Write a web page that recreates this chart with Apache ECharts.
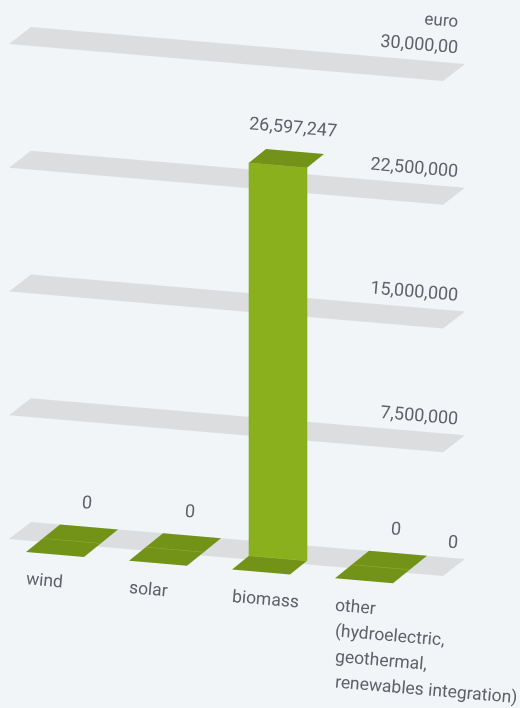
<!DOCTYPE html>
<html>
<head>
<meta charset="utf-8">
<script src="https://cdn.jsdelivr.net/npm/echarts@6/dist/echarts.min.js"></script>
<style>
  html, body { margin: 0; padding: 0; background: #f1f5f8; }
  #chart { width: 520px; height: 708px; }
</style>
</head>
<body>
<div id="chart"></div>
<script>
// Funding per renewable source (euro)
const categories = ['wind', 'solar', 'biomass', 'other\n(hydroelectric,\ngeothermal,\nrenewables integration)'];
const values = [0, 0, 26597247, 0];
const valueLabels = ['0', '0', '26,597,247', '0'];

// Value-axis planes and their labels
const gridValues = [0, 7500000, 15000000, 22500000, 30000000];
const tickLabels = ['0', '7,500,000', '15,000,000', '22,500,000', '30,000,00'];
const unitName = 'euro';

// Oblique projection settings
const SLOPE = 0.0853;                 // downward drift of everything to the right
const TILT = -Math.atan(SLOPE);
const PLANE_DEPTH = [22, 17];         // back edge -> front edge of a grid plane
const TILE_W = 58;                    // column width
const TILE_DEPTH = [34, 27.5];        // full footprint depth
const LINE_H = 25.6;
const TEXT = '#5e6165';
const PLANE = '#dcdddf';
const GREEN = '#8ab01e';
const GREEN_DARK = '#729318';

function tiltedText(x, y, text, font, align, vAlign) {
  return {
    type: 'text', x: x, y: y, rotation: TILT,
    style: {
      text: text, x: 0, y: 0, fill: TEXT, font: font,
      align: align, textAlign: align, verticalAlign: vAlign, textVerticalAlign: vAlign
    }
  };
}

function renderPlane(params, api) {
  const cs = params.coordSys;
  const v = api.value(1);
  const y0 = api.coord([0, v])[1];
  const x0 = cs.x;
  const x1 = cs.x + cs.width + PLANE_DEPTH[0];
  const y1 = y0 + (x1 - x0) * SLOPE;
  const lx = x1 - 7;
  const ly = y0 + (lx - x0) * SLOPE - 14.6;
  const children = [
    {
      type: 'polygon',
      shape: { points: [[x0, y0], [x1, y1], [x1 - PLANE_DEPTH[0], y1 + PLANE_DEPTH[1]], [x0 - PLANE_DEPTH[0], y0 + PLANE_DEPTH[1]]] },
      style: { fill: PLANE }
    },
    tiltedText(lx, ly, tickLabels[params.dataIndex], '18px Roboto', 'right', 'middle')
  ];
  if (params.dataIndex === gridValues.length - 1) {
    children.push(tiltedText(lx, ly - 26, unitName, '17px Roboto', 'right', 'middle'));
  }
  return { type: 'group', children: children };
}

function renderColumn(params, api) {
  const cs = params.coordSys;
  const i = api.value(0);
  const base = api.coord([i, 0]);
  const top = api.coord([i, api.value(1)]);
  const h = base[1] - top[1];
  const hx = TILE_DEPTH[0] / 2, hy = TILE_DEPTH[1] / 2;
  const bx = base[0] - 22.5;                       // back-left corner of footprint
  const fx = bx - hx;                              // front face, left edge
  const fy = base[1] + (bx - cs.x) * SLOPE + hy;   // front face, bottom-left
  const fyR = fy + TILE_W * SLOPE;                 // front face, bottom-right

  const bottom = [[fx, fy], [fx + TILE_W, fyR], [fx + TILE_W - hx, fyR + hy], [fx - hx, fy + hy]];
  const front = [[fx, fy], [fx + TILE_W, fyR], [fx + TILE_W, fyR - h], [fx, fy - h]];
  const cap = [[fx, fy - h], [fx + TILE_W, fyR - h], [fx + TILE_W + hx, fyR - h - hy], [fx + hx, fy - h - hy]];

  const children = [
    { type: 'polygon', shape: { points: bottom }, style: { fill: GREEN_DARK } },
    { type: 'polygon', shape: { points: front }, style: { fill: GREEN, stroke: GREEN, lineWidth: 0.6 } },
    { type: 'polygon', shape: { points: cap }, style: { fill: GREEN_DARK } },
    tiltedText(fx + hx + TILE_W / 2 - 2, fy - h - hy + (TILE_W / 2) * SLOPE - 23,
      valueLabels[params.dataIndex], '18px Roboto', 'center', 'middle')
  ];

  // category name: each line starts at the same x, stacked straight down
  const lx = fx - hx;
  const baseY = fy + hy + 34 - 6;
  categories[params.dataIndex].split('\n').forEach(function (line, k) {
    children.push(tiltedText(lx, baseY + k * LINE_H, line, '17.5px Roboto', 'left', 'middle'));
  });

  return { type: 'group', children: children };
}

const chart = echarts.init(document.getElementById('chart'), null, { renderer: 'canvas' });
chart.setOption({
  animation: false,
  backgroundColor: '#f1f5f8',
  grid: { left: 31, top: 27, width: 412, height: 495 },
  xAxis: { type: 'category', data: categories, show: false },
  yAxis: [
    { type: 'value', min: 0, max: 30000000, interval: 7500000, show: false },
    { type: 'value', min: 0, max: 33500000, show: false }
  ],
  series: [
    {
      type: 'custom',
      yAxisIndex: 0,
      clip: false,
      z: 1,
      renderItem: renderPlane,
      data: gridValues.map(v => [0, v])
    },
    {
      type: 'custom',
      yAxisIndex: 1,
      clip: false,
      z: 2,
      renderItem: renderColumn,
      data: values.map((v, i) => [i, v])
    }
  ]
});
</script>
</body>
</html>
